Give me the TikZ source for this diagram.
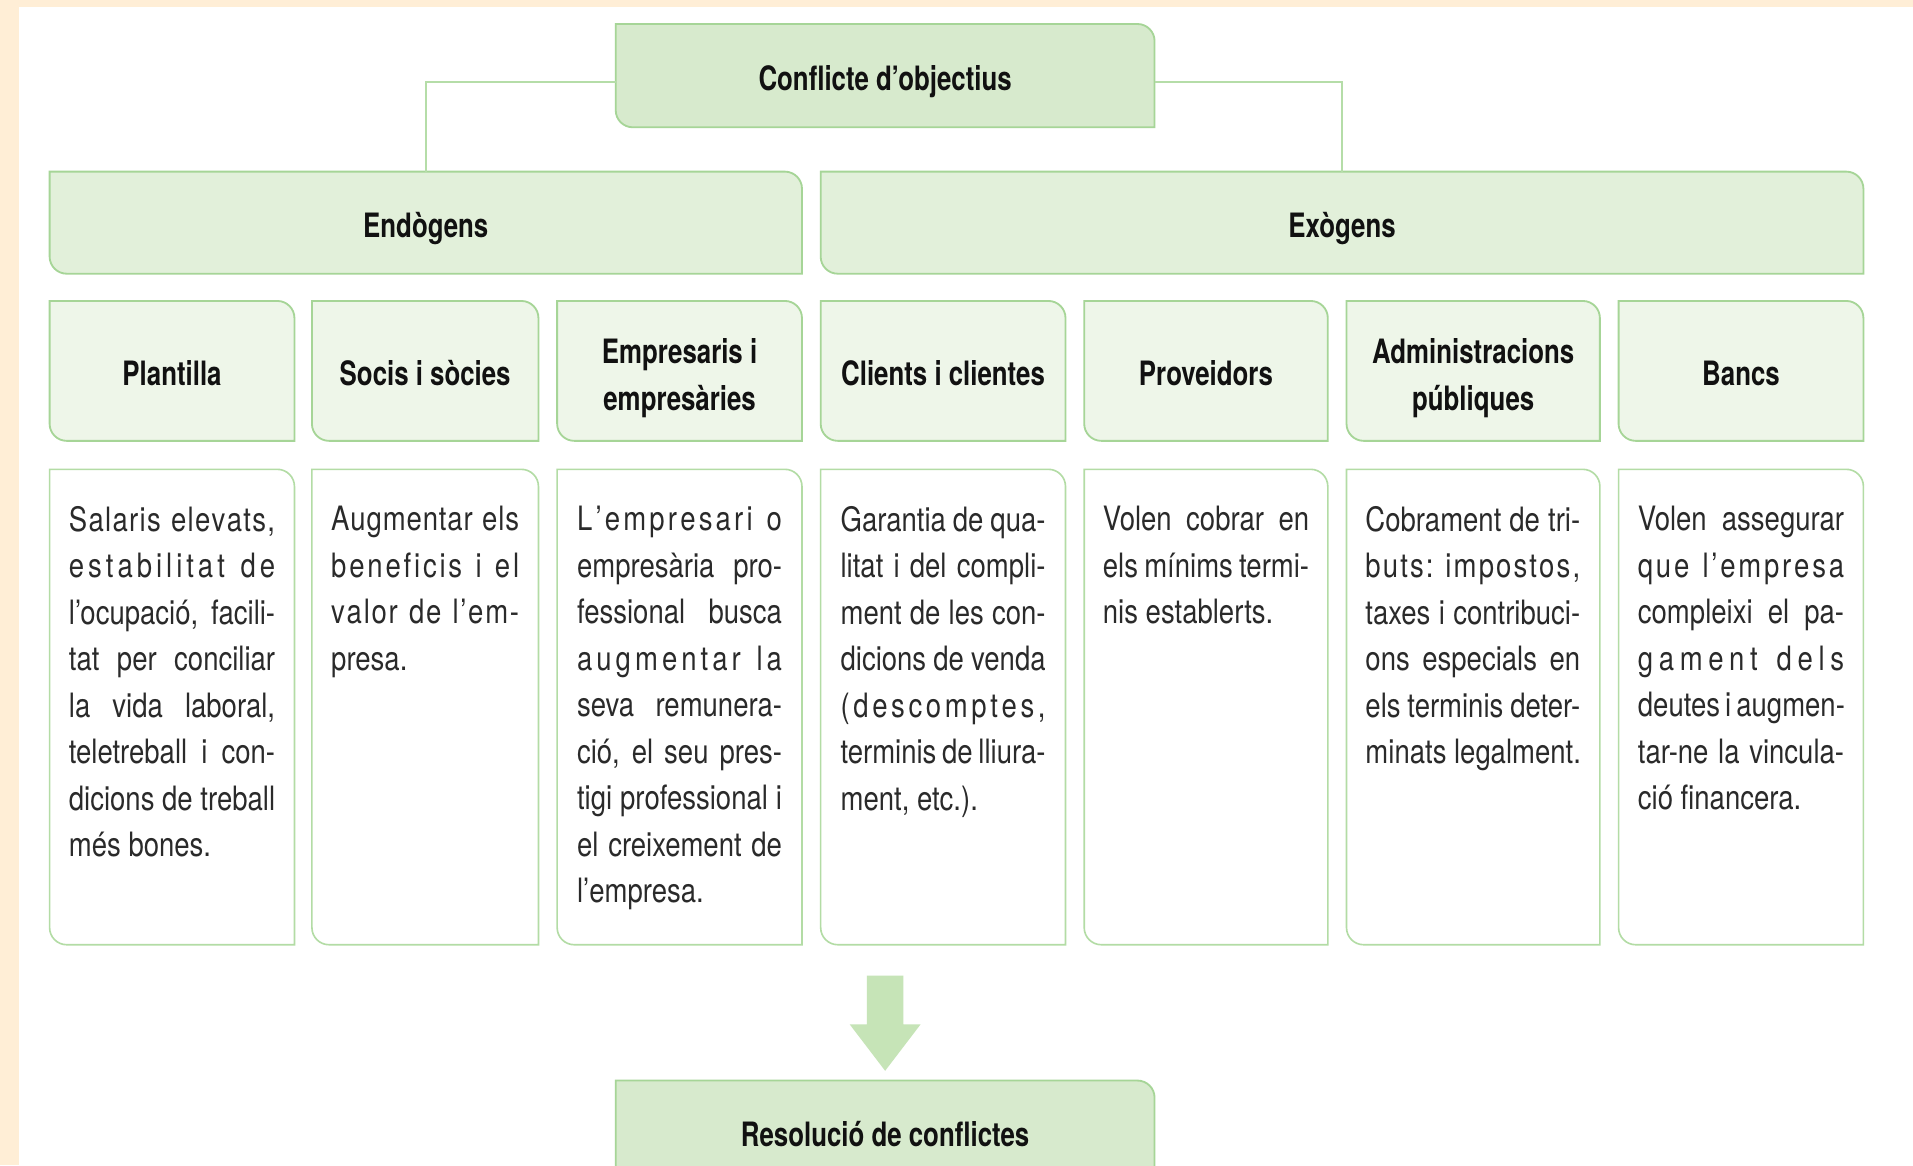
\documentclass[tikz,border=0pt]{standalone}
\usepackage{fontspec}
\setmainfont{TeX Gyre Heros}[FakeStretch=0.82]
\newfontfamily\hdfont{TeX Gyre Heros}[FakeStretch=0.77]
\usetikzlibrary{backgrounds}
\definecolor{cream}{HTML}{FFEED6}
\definecolor{gborder}{HTML}{A6D597}
\definecolor{gborderl}{HTML}{B3DCA5}
\definecolor{gline}{HTML}{B5DDA8}
\definecolor{gdark}{HTML}{D7EACD}
\definecolor{gmid}{HTML}{E2F0DA}
\definecolor{glight}{HTML}{EEF6E9}
\definecolor{garrow}{HTML}{C6E4B7}
\definecolor{textdark}{HTML}{111111}
\definecolor{textbody}{HTML}{2A2A2A}
\newlength\uu \setlength\uu{0.6pt}
\newcommand\tabpath[2]{%
  \path[#2] (#1.north west) -- ([xshift=-14\uu]#1.north east)
    arc[start angle=90,end angle=0,radius=14\uu] -- (#1.south east)
    -- ([xshift=14\uu]#1.south west)
    arc[start angle=270,end angle=180,radius=14\uu] -- cycle;}
\newcommand\jline[1]{\hbox to \linewidth{#1}}
\newcommand\lline[1]{\hbox{#1}}
\def\spreadloop#1{\ifx\relax#1\else #1\hskip 0pt plus 1fil\relax\expandafter\spreadloop\fi}
\newcommand\spread[1]{\hbox to \linewidth{\spreadloop#1\relax\unskip}}
\newcommand\desctext[2]{\parbox[c][389\uu][t]{#1\uu}{\vspace*{18pt}#2}}
\tikzset{
  hdr/.style={font=\hdfont\bfseries\fontsize{16.5}{22.8}\selectfont, text=textdark, align=center, inner sep=0pt},
  hdr1/.style={hdr, text height=14.4pt, text depth=0pt},
  hdrshape/.style={inner sep=0pt},
  desc/.style={font=\fontsize{16.5}{22.86}\selectfont, text=textbody, inner sep=0pt, minimum height=389\uu},
  tabA/.style={fill=gdark, draw=gborder, line width=0.9pt},
  tabB/.style={fill=gmid, draw=gborder, line width=0.9pt},
  tabC/.style={fill=glight, draw=gborder, line width=0.9pt},
  tabD/.style={fill=white, draw=gborderl, line width=0.8pt},
  conn/.style={draw=gline, line width=0.8pt},
}
\begin{document}
\begin{tikzpicture}[x=0.6pt,y=0.6pt]
\path[use as bounding box] (0,0) rectangle (1568,-955);

% top and level 1
\node[hdr1, minimum width=441\uu, minimum height=84\uu] (conf) at (725.5,-62) {Conflicte d’objectius};
\node[hdr1, minimum width=616\uu, minimum height=83\uu] (endo) at (349,-182.5) {Endògens};
\node[hdr1, minimum width=854\uu, minimum height=83\uu] (exo) at (1100,-182.5) {Exògens};

% headers
\node[hdr1, minimum width=200\uu, minimum height=114\uu] (hplan) at (141,-304) {Plantilla};
\node[hdr1, minimum width=185\uu, minimum height=114\uu] (hsoc) at (348.5,-304) {Socis i sòcies};
\node[hdrshape, minimum width=200\uu, minimum height=114\uu] (hemp) at (557,-304) {};
\node[hdr, yshift=-3.6pt] (hemp-t) at (hemp.center) {Empresaris i\\empresàries};
\node[hdr1, minimum width=200\uu, minimum height=114\uu] (hcli) at (773,-304) {Clients i clientes};
\node[hdr1, minimum width=199\uu, minimum height=114\uu] (hpro) at (988.5,-304) {Proveidors};
\node[hdrshape, minimum width=207\uu, minimum height=114\uu] (hadm) at (1207.5,-304) {};
\node[hdr, yshift=-3.6pt] (hadm-t) at (hadm.center) {Administracions\\públiques};
\node[hdr1, minimum width=200\uu, minimum height=114\uu] (hban) at (1427,-304) {Bancs};

% descriptions
\node[desc, minimum width=200\uu] (dplan) at (141,-579.5) {\desctext{169}{%
  \spread{Salaris\ elevats,}\spread{estabilitat\ de}\jline{l’ocupació, facili-}%
  \jline{tat per conciliar}\jline{la vida laboral,}\jline{teletreball i con-}%
  \jline{dicions de treball}\lline{més bones.}}};
\node[desc, minimum width=185\uu] (dsoc) at (348.5,-579.5) {\desctext{154}{%
  \spread{Augmentar\ els}\spread{beneficis\ i\ el}\spread{valor\ de\ l’em-}\lline{presa.}}};
\node[desc, minimum width=200\uu] (demp) at (557,-579.5) {\desctext{168}{%
  \spread{L’empresari\ o}\jline{empresària pro-}\jline{fessional busca}%
  \spread{augmentar\ la}\jline{seva remunera-}\jline{ció, el seu pres-}%
  \jline{tigi professional i}\jline{el creixement de}\lline{l’empresa.}}};
\node[desc, minimum width=200\uu] (dcli) at (773,-579.5) {\desctext{168}{%
  \jline{Garantia de qua-}\jline{litat i del compli-}\jline{ment de les con-}%
  \jline{dicions de venda}\spread{(descomptes,}\jline{terminis de lliura-}%
  \lline{ment, etc.).}}};
\node[desc, minimum width=199\uu] (dpro) at (988.5,-579.5) {\desctext{169}{%
  \jline{Volen cobrar en}\jline{els mínims termi-}\lline{nis establerts.}}};
\node[desc, minimum width=207\uu] (dadm) at (1207.5,-579.5) {\desctext{176}{%
  \jline{Cobrament de tri-}\spread{buts:\ impostos,}\jline{taxes i contribuci-}%
  \jline{ons especials en}\jline{els terminis deter-}\lline{minats legalment.}}};
\node[desc, minimum width=200\uu] (dban) at (1427,-579.5) {\desctext{169}{%
  \jline{Volen assegurar}\spread{que\ l’empresa}\jline{compleixi el pa-}%
  \spread{gament\ dels}\jline{deutes i augmen-}\jline{tar-ne la vincula-}%
  \lline{ció financera.}}};

% result
\node[hdr1, minimum width=441\uu, minimum height=84\uu] (res) at (725.5,-928) {Resolució de conflictes};

% connectors
\draw[conn] ([yshift=-3pt]conf.west) -| (endo.north);
\draw[conn] ([yshift=-3pt]conf.east) -| (exo.north);

\begin{pgfonlayer}{background}
  \fill[cream] (0,0) rectangle (1568,-955);
  \fill[white] (15.5,-6) rectangle (1568,-955);
  \tabpath{conf}{tabA}
  \tabpath{res}{tabA}
  \tabpath{endo}{tabB}
  \tabpath{exo}{tabB}
  \foreach \n in {hplan,hsoc,hemp,hcli,hpro,hadm,hban} {\tabpath{\n}{tabC}}
  \foreach \n in {dplan,dsoc,demp,dcli,dpro,dadm,dban} {\tabpath{\n}{tabD}}
  % block arrow
  \coordinate (tip) at ([yshift=8\uu]res.north);
  \fill[garrow] (tip) -- ++(-29,38) -- ++(14,0) -- ++(0,40) -- ++(30,0) -- ++(0,-40) -- ++(14,0) -- cycle;
\end{pgfonlayer}
\end{tikzpicture}
\end{document}
